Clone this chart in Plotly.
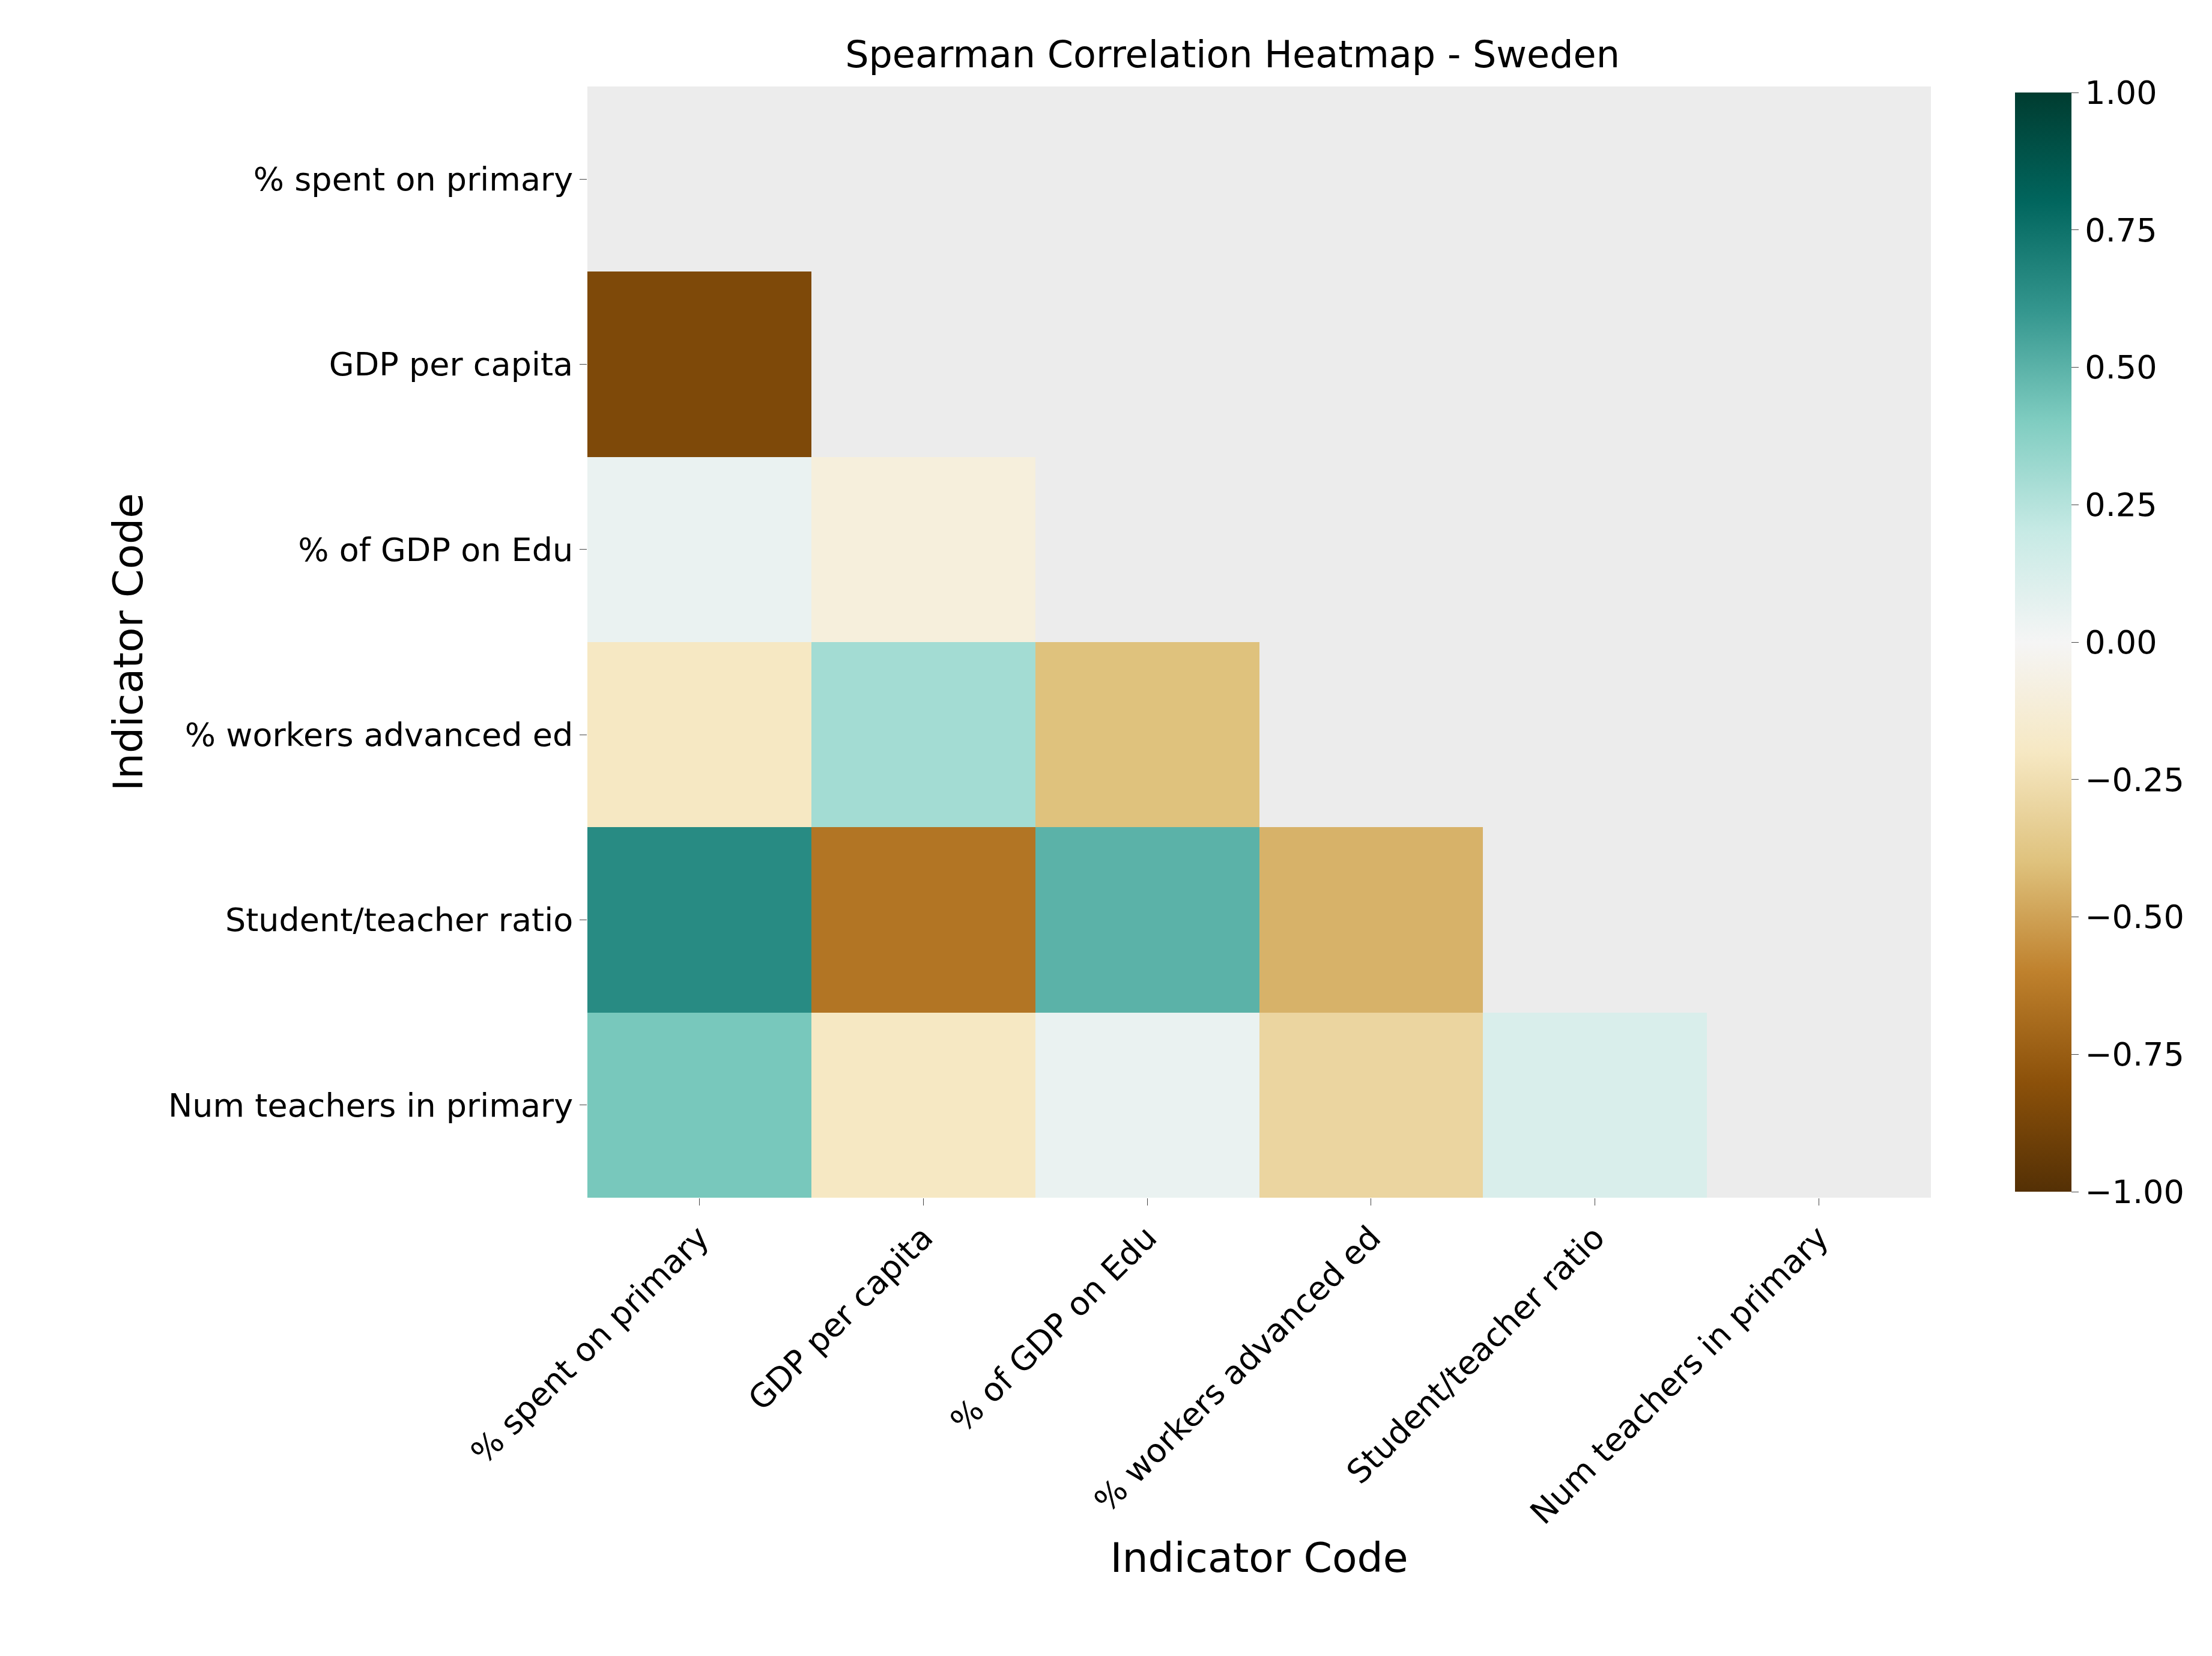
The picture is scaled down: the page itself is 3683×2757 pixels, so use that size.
import plotly.graph_objects as go

labels = ["% spent on primary", "GDP per capita", "% of GDP on Edu",
          "% workers advanced ed", "Student/teacher ratio", "Num teachers in primary"]

# lower triangle only, upper + diagonal masked (None)
row_primary = [None, None, None, None, None, None]
row_gdp = [-0.85, None, None, None, None, None]
row_edu = [0.05, -0.10, None, None, None, None]
row_workers = [-0.20, 0.30, -0.40, None, None, None]
row_ratio = [0.65, -0.65, 0.50, -0.45, None, None]
row_teachers = [0.42, -0.20, 0.05, -0.30, 0.12, None]

z = [row_primary, row_gdp, row_edu, row_workers, row_ratio, row_teachers]

fig = go.Figure(go.Heatmap(
    z=z, x=labels, y=labels, colorscale="BrBG", zmin=-1, zmax=1,
    hoverongaps=False,
    colorbar=dict(x=1.058, xanchor="left", thickness=94, len=1, y=0.5,
                  tickvals=[-1, -0.75, -0.5, -0.25, 0, 0.25, 0.5, 0.75, 1],
                  ticktext=["\u22121.00", "\u22120.75", "\u22120.50", "\u22120.25", "0.00",
                            "0.25", "0.50", "0.75", "1.00"],
                  ticks="outside", ticklen=12, tickfont=dict(size=54), outlinewidth=0),
))

fig.update_layout(
    width=3683, height=2757,
    margin=dict(l=970, r=476, t=136, b=771),
    plot_bgcolor="#ececec", paper_bgcolor="white",
    font=dict(family="DejaVu Sans", color="black"),
    title=dict(text="Spearman Correlation Heatmap - Sweden", x=0.555, xanchor="center",
               y=0.978, font=dict(size=62)),
    xaxis=dict(title=dict(text="Indicator Code", font=dict(size=68), standoff=20),
               tickangle=-45, tickfont=dict(size=54), ticks="outside", ticklen=12,
               showgrid=False, zeroline=False),
    yaxis=dict(title=dict(text="Indicator Code", font=dict(size=68), standoff=20),
               autorange="reversed", tickfont=dict(size=54), ticks="outside",
               ticklen=12, showgrid=False, zeroline=False),
)

fig.write_html("out.html")
